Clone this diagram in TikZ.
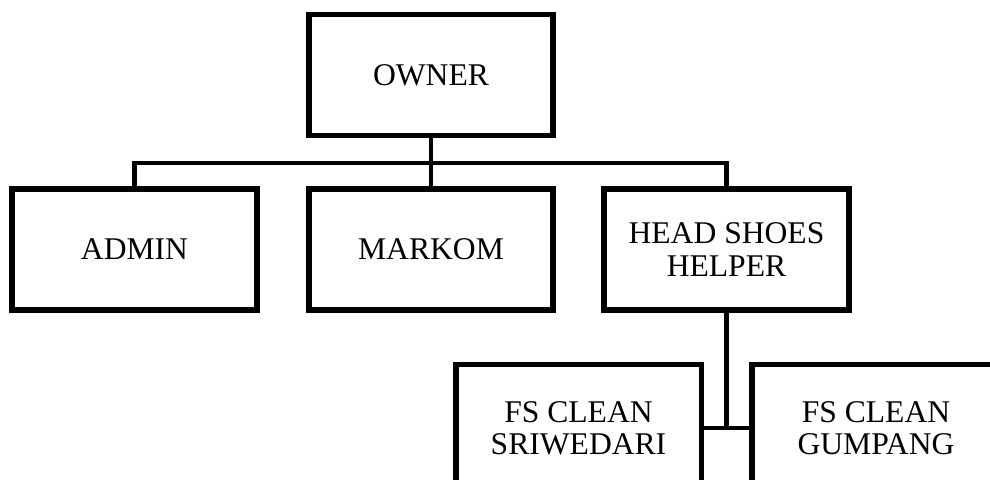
\documentclass[tikz,border=0pt]{standalone}
\usepackage{fontspec}
\setmainfont{Liberation Serif}
\begin{document}
\begin{tikzpicture}[x=0.75pt,y=-0.75pt,
  orgbox/.style={draw=black,line width=4.2pt,rectangle,fill=white,align=center,
    font=\fontsize{23.7}{24.2}\selectfont,inner sep=0pt,
    minimum width=183.4pt,minimum height=91pt},
  lowbox/.style={orgbox,minimum height=95pt},
  link/.style={draw=black,line width=3.5pt}]
\useasboundingbox (0,0) rectangle (990,479);
\clip (0,0) rectangle (990,479);
\coordinate (bus) at (431,163);
\node[orgbox] (owner) at (431,75) {OWNER};
\node[orgbox] (admin) at (134.5,249.5) {ADMIN};
\node[orgbox] (markom) at (431,249.5) {MARKOM};
\node[orgbox] (head) at (726.5,249.5) {HEAD SHOES\\HELPER};
\node[lowbox,minimum width=184.2pt] (sri) at (578.5,428) {FS CLEAN\\SRIWEDARI};
\node[lowbox,minimum width=185.6pt] (gum) at (876,428) {FS CLEAN\\GUMPANG};
\draw[link] (owner.south) -- (markom.north);
\draw[link] (admin.north) -- (admin.north |- bus) -- (head.north |- bus) -- (head.north);
\draw[link] (head.south) -- (head.south |- sri.east);
\draw[link] (sri.east) -- (gum.west);
\end{tikzpicture}
\end{document}
